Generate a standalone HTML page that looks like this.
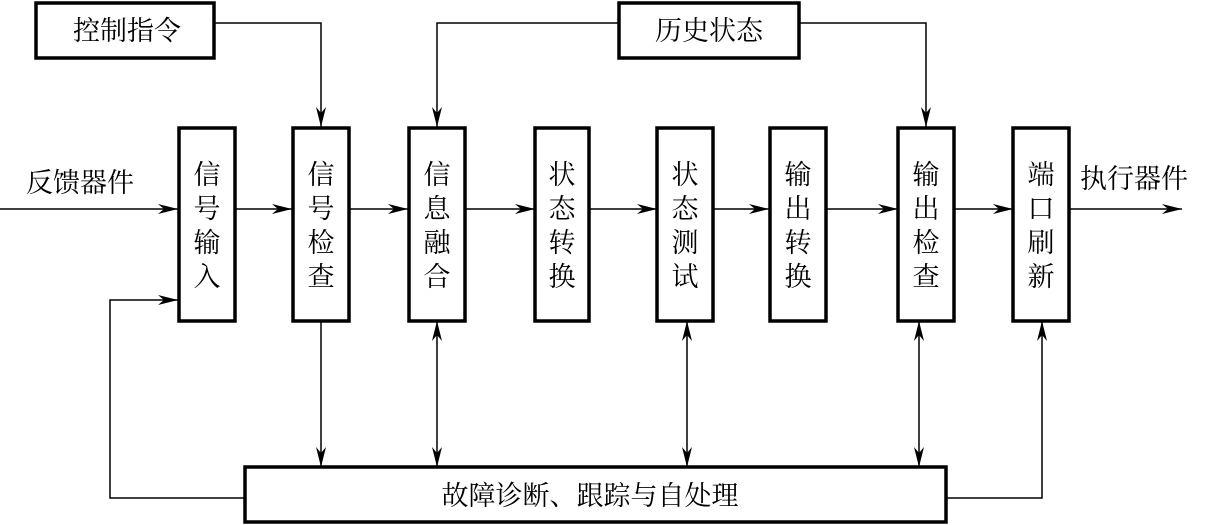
<!DOCTYPE html>
<html><head><meta charset="utf-8"><style>
html,body{margin:0;padding:0;background:#fff;}
svg{display:block}
text{font-family:"Liberation Serif","Noto Serif CJK SC","Noto Sans CJK SC",serif;font-size:27px;fill:#000}
</style></head><body>
<svg width="1218" height="525" viewBox="0 0 1218 525" xmlns="http://www.w3.org/2000/svg">
<defs>
<marker id="a" viewBox="0 0 20 10" refX="20" refY="5" markerWidth="20" markerHeight="10" markerUnits="userSpaceOnUse" orient="auto">
<path d="M0,0 L20,5 L0,10 L6,5 Z" fill="#000"/>
</marker>
<marker id="s" viewBox="0 0 20 10" refX="0" refY="5" markerWidth="20" markerHeight="10" markerUnits="userSpaceOnUse" orient="auto">
<path d="M20,0 L0,5 L20,10 L14,5 Z" fill="#000"/>
</marker>
</defs>
<g fill="none" stroke="#000" stroke-width="1.5">
<!-- main flow -->
<line x1="0" y1="209" x2="178" y2="209" marker-end="url(#a)"/>
<line x1="235" y1="209" x2="292" y2="209" marker-end="url(#a)"/>
<line x1="349" y1="209" x2="408" y2="209" marker-end="url(#a)"/>
<line x1="465" y1="209" x2="535" y2="209" marker-end="url(#a)"/>
<line x1="589" y1="209" x2="657" y2="209" marker-end="url(#a)"/>
<line x1="713" y1="209" x2="769" y2="209" marker-end="url(#a)"/>
<line x1="826" y1="209" x2="898" y2="209" marker-end="url(#a)"/>
<line x1="954" y1="209" x2="1013" y2="209" marker-end="url(#a)"/>
<line x1="1069" y1="209" x2="1182" y2="209" marker-end="url(#a)"/>
<!-- top -->
<polyline points="214,23 321,23 321,127" marker-end="url(#a)"/>
<polyline points="619,23 437,23 437,127" marker-end="url(#a)"/>
<polyline points="799,23 926,23 926,127" marker-end="url(#a)"/>
<!-- bottom -->
<line x1="321" y1="321" x2="321" y2="467" marker-end="url(#a)"/>
<line x1="437" y1="321" x2="437" y2="467" marker-start="url(#s)" marker-end="url(#a)"/>
<line x1="687" y1="321" x2="687" y2="467" marker-start="url(#s)" marker-end="url(#a)"/>
<line x1="919" y1="321" x2="919" y2="467" marker-start="url(#s)" marker-end="url(#a)"/>
<polyline points="946,498 1042,498 1042,321" marker-end="url(#a)"/>
<polyline points="244,498 110,498 110,300 178,300" marker-end="url(#a)"/>
</g>
<g fill="#fff" stroke="#000" stroke-width="3.5">
<rect x="36" y="3" width="178" height="55"/>
<rect x="619" y="3" width="180" height="55"/>
<rect x="179" y="128" width="56" height="193"/>
<rect x="293" y="128" width="56" height="193"/>
<rect x="409" y="128" width="56" height="193"/>
<rect x="535" y="128" width="54" height="193"/>
<rect x="657" y="128" width="56" height="193"/>
<rect x="770" y="128" width="56" height="193"/>
<rect x="898" y="128" width="56" height="193"/>
<rect x="1013" y="128" width="56" height="193"/>
<rect x="245" y="467" width="701" height="55"/>
</g>
<g text-anchor="middle">
<text x="127" y="40">控制指令</text>
<text x="709" y="40">历史状态</text>
<text x="80" y="192">反馈器件</text>
<text x="1134" y="188">执行器件</text>
<text x="590" y="505">故障诊断、跟踪与自处理</text>
</g>
<g text-anchor="middle">
<text x="207" y="184">信</text><text x="207" y="218">号</text><text x="207" y="252">输</text><text x="207" y="286">入</text>
<text x="321" y="184">信</text><text x="321" y="218">号</text><text x="321" y="252">检</text><text x="321" y="286">查</text>
<text x="437" y="184">信</text><text x="437" y="218">息</text><text x="437" y="252">融</text><text x="437" y="286">合</text>
<text x="562" y="184">状</text><text x="562" y="218">态</text><text x="562" y="252">转</text><text x="562" y="286">换</text>
<text x="685" y="184">状</text><text x="685" y="218">态</text><text x="685" y="252">测</text><text x="685" y="286">试</text>
<text x="798" y="184">输</text><text x="798" y="218">出</text><text x="798" y="252">转</text><text x="798" y="286">换</text>
<text x="926" y="184">输</text><text x="926" y="218">出</text><text x="926" y="252">检</text><text x="926" y="286">查</text>
<text x="1041" y="184">端</text><text x="1041" y="218">口</text><text x="1041" y="252">刷</text><text x="1041" y="286">新</text>
</g>
</svg>
</body></html>
